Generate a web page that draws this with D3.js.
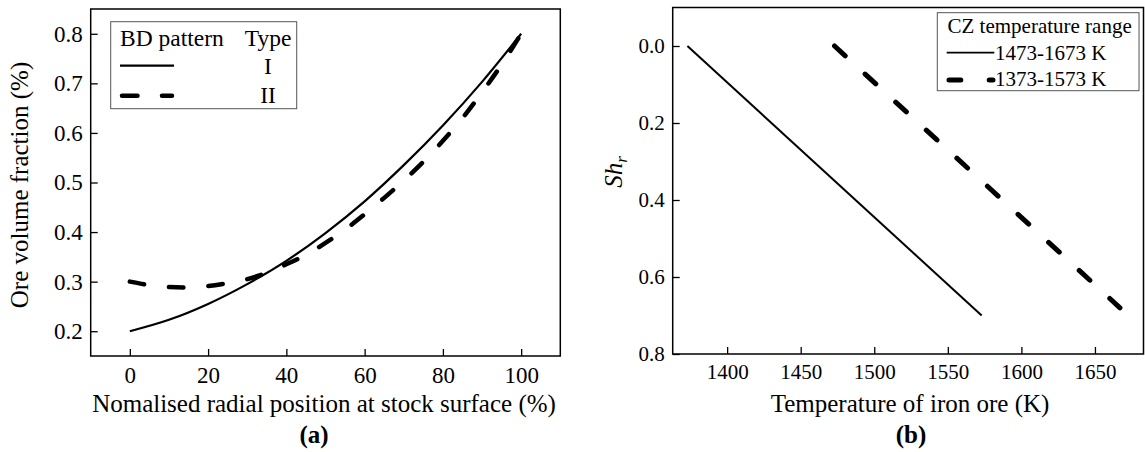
<!DOCTYPE html>
<html>
<head>
<meta charset="utf-8">
<script src="https://cdn.jsdelivr.net/npm/d3@7"></script>
<style>
  body { margin: 0; background: #fff; }
  text { font-family: "Liberation Serif", "Times New Roman", serif; fill: #000; }
</style>
</head>
<body>
<script>
// ---- data ----
// panel (a)
const radialI = [0, 10, 20, 30, 40, 50, 60, 70, 80, 90, 100];
const oreTypeI = [0.200, 0.223, 0.255, 0.295, 0.342, 0.398, 0.462, 0.535, 0.615, 0.703, 0.800];
const radialII = [0, 5, 10, 15, 20, 25, 30, 35, 40, 45, 50, 55, 60, 65, 70, 75, 80, 85, 90, 95, 100];
const oreTypeII = [0.300, 0.293, 0.289, 0.288, 0.291, 0.297, 0.305, 0.318, 0.335, 0.354, 0.378,
                   0.405, 0.436, 0.469, 0.504, 0.542, 0.584, 0.630, 0.682, 0.738, 0.800];
const xTicksA = [0, 20, 40, 60, 80, 100];
const yTicksA = [0.2, 0.3, 0.4, 0.5, 0.6, 0.7, 0.8];
const legendTypesA = ["I", "II"];

// panel (b)
const tempSolid = [1373, 1573];
const shSolid = [0, 0.7];
const tempDashed = [1473, 1667];
const shDashed = [0, 0.68];
const xTicksB = [1400, 1450, 1500, 1550, 1600, 1650];
const yTicksB = [0.0, 0.2, 0.4, 0.6, 0.8];
const legendRangesB = ["1473-1673 K", "1373-1573 K"];

const width = 1145;
const height = 452;

const svg = d3.select("body")
    .append("svg")
    .attr("width", width)
    .attr("height", height);

svg.append("rect").attr("width", width).attr("height", height).attr("fill", "#fff");

// ---- panel (a) ----
const frameA = { left: 90.7, right: 560.3, top: 9, bottom: 356 };

const xA = d3.scaleLinear().domain([-10, 110]).range([frameA.left, frameA.right]);
const yA = d3.scaleLinear().domain([0.15, 0.85]).range([frameA.bottom, frameA.top]);

// ---- panel (b) ----
const frameB = { left: 672.7, right: 1143.5, top: 7.5, bottom: 354 };

const xB = d3.scaleLinear().domain([1363, 1683]).range([frameB.left, frameB.right]);
const yB = d3.scaleLinear().domain([-0.1, 0.8]).range([frameB.top, frameB.bottom]);

function drawAxes(xScale, yScale, frame, xTicks, yTicks, xFmt, yFmt, fontSize, xPad) {
    const gx = svg.append("g")
        .attr("transform", `translate(0, ${frame.bottom})`)
        .call(d3.axisBottom(xScale).tickValues(xTicks).tickFormat(xFmt)
            .tickSizeInner(-7).tickSizeOuter(0).tickPadding(xPad));
    const gy = svg.append("g")
        .attr("transform", `translate(${frame.left}, 0)`)
        .call(d3.axisLeft(yScale).tickValues(yTicks).tickFormat(yFmt)
            .tickSizeInner(-7).tickSizeOuter(0).tickPadding(8));

    [gx, gy].forEach(g => {
        g.select(".domain").remove();
        g.selectAll(".tick line").attr("stroke", "#000").attr("stroke-width", 1.3);
        g.selectAll(".tick text")
            .attr("font-family", "Liberation Serif, Times New Roman, serif")
            .attr("font-size", fontSize)
            .attr("fill", "#000");
    });

    svg.append("rect")
        .attr("x", frame.left)
        .attr("y", frame.top)
        .attr("width", frame.right - frame.left)
        .attr("height", frame.bottom - frame.top)
        .attr("fill", "none")
        .attr("stroke", "#000")
        .attr("stroke-width", 1.5);
}

drawAxes(xA, yA, frameA, xTicksA, yTicksA, d3.format("d"), d3.format(".1f"), 23, 10.5);
drawAxes(xB, yB, frameB, xTicksB, yTicksB, d3.format("d"), d3.format(".1f"), 21, 10);

// curves of panel (a)
const lineA = d3.line()
    .x(d => xA(d[0]))
    .y(d => yA(d[1]))
    .curve(d3.curveMonotoneX);

svg.append("path")
    .datum(d3.zip(radialI, oreTypeI))
    .attr("d", lineA)
    .attr("fill", "none")
    .attr("stroke", "#000")
    .attr("stroke-width", 2.2);

svg.append("path")
    .datum(d3.zip(radialII, oreTypeII))
    .attr("d", lineA)
    .attr("fill", "none")
    .attr("stroke", "#000")
    .attr("stroke-width", 4.5)
    .attr("stroke-linecap", "round")
    .attr("stroke-dasharray", "14.5,25");

// lines of panel (b)
const lineB = d3.line()
    .x(d => xB(d[0]))
    .y(d => yB(d[1]));

svg.append("path")
    .datum(d3.zip(tempSolid, shSolid))
    .attr("d", lineB)
    .attr("fill", "none")
    .attr("stroke", "#000")
    .attr("stroke-width", 2);

svg.append("path")
    .datum(d3.zip(tempDashed, shDashed))
    .attr("d", lineB)
    .attr("fill", "none")
    .attr("stroke", "#000")
    .attr("stroke-width", 5)
    .attr("stroke-linecap", "round")
    .attr("stroke-dasharray", "14.5,27");

// axis titles
svg.append("text")
    .attr("x", 324)
    .attr("y", 412)
    .attr("text-anchor", "middle")
    .attr("font-size", 25)
    .text("Nomalised radial position at stock surface (%)");

svg.append("text")
    .attr("transform", "translate(28, 185) rotate(-90)")
    .attr("text-anchor", "middle")
    .attr("font-size", 25)
    .text("Ore volume fraction (%)");

svg.append("text")
    .attr("x", 314)
    .attr("y", 443)
    .attr("text-anchor", "middle")
    .attr("font-size", 25)
    .attr("font-weight", "bold")
    .text("(a)");

svg.append("text")
    .attr("x", 910)
    .attr("y", 411.5)
    .attr("text-anchor", "middle")
    .attr("font-size", 25)
    .text("Temperature of iron ore (K)");

const shLabel = svg.append("text")
    .attr("transform", "translate(622, 172) rotate(-90)")
    .attr("text-anchor", "middle")
    .attr("font-size", 25)
    .attr("font-style", "italic");
shLabel.append("tspan").text("Sh");
shLabel.append("tspan").attr("font-size", 17).attr("dy", 5).text("r");

svg.append("text")
    .attr("x", 911)
    .attr("y", 443)
    .attr("text-anchor", "middle")
    .attr("font-size", 25)
    .attr("font-weight", "bold")
    .text("(b)");

// legend (a)
const legA = svg.append("g");
legA.append("rect")
    .attr("x", 110.7).attr("y", 21.7)
    .attr("width", 186).attr("height", 87)
    .attr("fill", "#fff")
    .attr("stroke", "#555")
    .attr("stroke-width", 1);
legA.append("text").attr("x", 120).attr("y", 45.7).attr("font-size", 23.5).text("BD pattern");
legA.append("text").attr("x", 268).attr("y", 45.7).attr("text-anchor", "middle").attr("font-size", 23.5).text("Type");
legA.append("line")
    .attr("x1", 120).attr("x2", 174).attr("y1", 65.7).attr("y2", 65.7)
    .attr("stroke", "#000").attr("stroke-width", 2.2);
legA.append("line")
    .attr("x1", 122).attr("x2", 172).attr("y1", 95.7).attr("y2", 95.7)
    .attr("stroke", "#000").attr("stroke-width", 4.5)
    .attr("stroke-linecap", "round").attr("stroke-dasharray", "15.5,24.5");
legendTypesA.forEach((t, i) => {
    legA.append("text")
        .attr("x", 268).attr("y", 74 + i * 29.3)
        .attr("text-anchor", "middle").attr("font-size", 23.5)
        .text(t);
});

// legend (b)
const legB = svg.append("g");
legB.append("rect")
    .attr("x", 937.3).attr("y", 12.7)
    .attr("width", 201.7).attr("height", 78)
    .attr("fill", "#fff")
    .attr("stroke", "#555")
    .attr("stroke-width", 1);
legB.append("text").attr("x", 947.5).attr("y", 33.3).attr("font-size", 21).text("CZ temperature range");
legB.append("line")
    .attr("x1", 946.7).attr("x2", 994.3).attr("y1", 52.7).attr("y2", 52.7)
    .attr("stroke", "#000").attr("stroke-width", 1.8);
legB.append("line")
    .attr("x1", 949).attr("x2", 993).attr("y1", 80).attr("y2", 80)
    .attr("stroke", "#000").attr("stroke-width", 5)
    .attr("stroke-linecap", "round").attr("stroke-dasharray", "11.8,28.4");
legendRangesB.forEach((t, i) => {
    legB.append("text")
        .attr("x", 995).attr("y", 60 + i * 26)
        .attr("font-size", 21)
        .text(t);
});
</script>
</body>
</html>
